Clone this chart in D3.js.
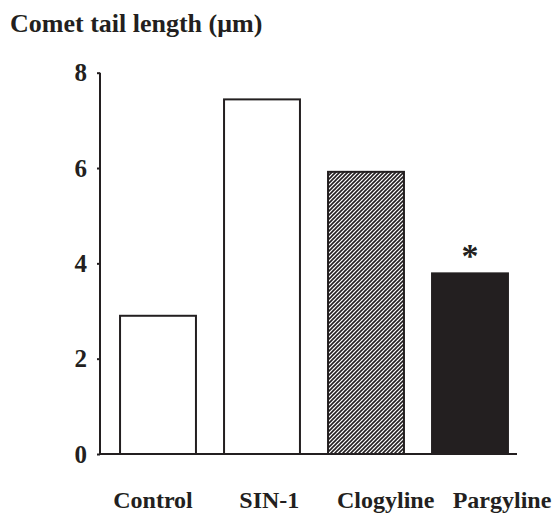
<!DOCTYPE html>
<html>
<head>
<meta charset="utf-8">
<script src="https://d3js.org/d3.v7.min.js"></script>
<style>
    body { margin: 0; background: #ffffff; }
    text {
        font-family: "Liberation Serif", "Times New Roman", serif;
        font-weight: bold;
        fill: #231f20;
    }
</style>
</head>
<body>
<div id="container"></div>
<script>
    // data
    const groups = ["Control", "SIN-1", "Clogyline", "Pargyline"];
    const tailLength = [2.90, 7.44, 5.92, 3.79];
    const fills = ["white", "white", "hatch", "solid"];
    const significant = [false, false, false, true];
    const yTicks = [0, 2, 4, 6, 8];

    const ink = "#231f20";
    const W = 558, H = 515;

    const svg = d3.select("#container")
        .append("svg")
        .attr("width", W)
        .attr("height", H);

    // hatch pattern for Clogyline ("/" stripes, 4px period)
    const pat = svg.append("defs")
        .append("pattern")
        .attr("id", "hatch")
        .attr("patternUnits", "userSpaceOnUse")
        .attr("width", 4)
        .attr("height", 4);
    pat.append("rect").attr("width", 4).attr("height", 4).attr("fill", "white");
    pat.append("path")
        .attr("d", "M-1,1 L1,-1 M0,4 L4,0 M3,5 L5,3")
        .attr("stroke", ink)
        .attr("stroke-width", 1.6);

    // scales
    const x = d3.scaleBand()
        .domain(groups)
        .range([106, 522])
        .paddingInner(0.27)
        .paddingOuter(0.135);

    // label positions (labels are not centred exactly under bars in the original)
    const xLab = d3.scalePoint()
        .domain(groups)
        .range([153, 502]);

    const y = d3.scaleLinear()
        .domain([0, 8])
        .range([454, 72.7]);

    // title
    svg.append("text")
        .attr("x", 10)
        .attr("y", 32)
        .style("font-size", "26px")
        .text("Comet tail length (\u03bcm)");

    // bars
    svg.selectAll(".bar")
        .data(groups)
        .enter()
        .append("rect")
        .attr("class", "bar")
        .attr("x", d => x(d))
        .attr("y", (d, i) => y(tailLength[i]))
        .attr("width", x.bandwidth())
        .attr("height", (d, i) => y(0) - y(tailLength[i]))
        .attr("fill", (d, i) => fills[i] === "hatch" ? "url(#hatch)" : (fills[i] === "solid" ? ink : "white"))
        .attr("stroke", ink)
        .attr("stroke-width", 2);

    // asterisk above significant bar
    svg.selectAll(".star")
        .data(groups.filter((d, i) => significant[i]))
        .enter()
        .append("text")
        .attr("class", "star")
        .attr("x", d => x(d) + x.bandwidth() / 2)
        .attr("y", d => y(tailLength[groups.indexOf(d)]) - 6)
        .attr("text-anchor", "middle")
        .style("font-size", "34px")
        .text("*");

    // y axis
    const yAxis = svg.append("g")
        .attr("transform", "translate(100,0)")
        .call(d3.axisLeft(y).tickValues(yTicks).tickSize(3).tickPadding(10));
    yAxis.select(".domain").remove();
    yAxis.selectAll(".tick line").attr("stroke", ink).attr("stroke-width", 2);
    yAxis.selectAll(".tick text")
        .attr("font-family", null)
        .attr("font-size", null)
        .attr("fill", ink)
        .style("font-size", "25px");
    yAxis.append("line")
        .attr("x1", 0).attr("x2", 0)
        .attr("y1", y(8)).attr("y2", y(0))
        .attr("stroke", ink)
        .attr("stroke-width", 2);

    // x axis baseline
    svg.append("line")
        .attr("x1", 99)
        .attr("x2", 517)
        .attr("y1", y(0))
        .attr("y2", y(0))
        .attr("stroke", ink)
        .attr("stroke-width", 2);

    // x labels
    svg.selectAll(".xlab")
        .data(groups)
        .enter()
        .append("text")
        .attr("class", "xlab")
        .attr("x", d => xLab(d))
        .attr("y", 508)
        .attr("text-anchor", "middle")
        .style("font-size", "24px")
        .text(d => d);
</script>
</body>
</html>
